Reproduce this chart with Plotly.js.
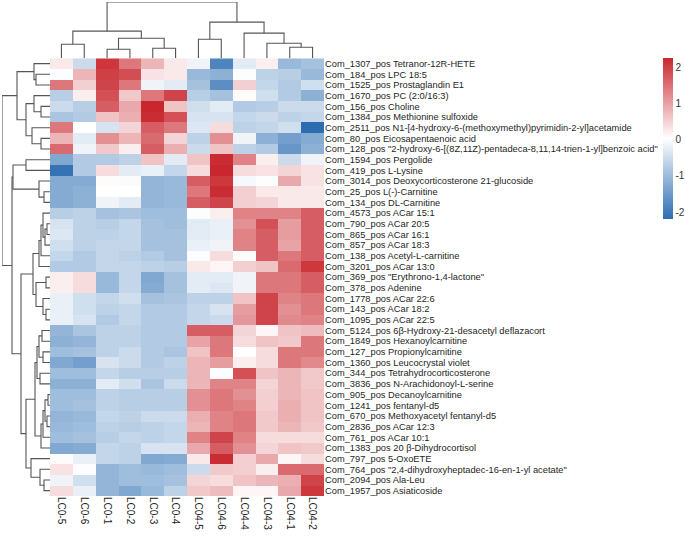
<!DOCTYPE html>
<html>
<head>
<meta charset="utf-8">
<script src="https://cdn.plot.ly/plotly-3.0.1.min.js"></script>
<style>
  html, body { margin: 0; padding: 0; background: #fff; }
  #chart { width: 685px; height: 536px; }
</style>
</head>
<body>
<div id="chart"></div>
<script>
// Sample columns, in clustered order
const colLabels = ['LC0-5','LC0-6','LC0-1','LC0-2','LC0-3','LC0-4',
                   'LC04-5','LC04-6','LC04-4','LC04-3','LC04-1','LC04-2'];

// Metabolite rows, in clustered order (top to bottom)
const rowLabels = [
  'Com_1307_pos Tetranor-12R-HETE',
  'Com_184_pos LPC 18:5',
  'Com_1525_pos Prostaglandin E1',
  'Com_1670_pos PC (2:0/16:3)',
  'Com_156_pos Choline',
  'Com_1384_pos Methionine sulfoxide',
  'Com_2511_pos N1-[4-hydroxy-6-(methoxymethyl)pyrimidin-2-yl]acetamide',
  'Com_80_pos Eicosapentaenoic acid',
  'Com_128_pos "2-hydroxy-6-[(8Z,11Z)-pentadeca-8,11,14-trien-1-yl]benzoic acid"',
  'Com_1594_pos Pergolide',
  'Com_419_pos L-Lysine',
  'Com_3014_pos Deoxycorticosterone 21-glucoside',
  'Com_25_pos L(-)-Carnitine',
  'Com_134_pos DL-Carnitine',
  'Com_4573_pos ACar 15:1',
  'Com_790_pos ACar 20:5',
  'Com_865_pos ACar 16:1',
  'Com_857_pos ACar 18:3',
  'Com_138_pos Acetyl-L-carnitine',
  'Com_3201_pos ACar 13:0',
  'Com_369_pos "Erythrono-1,4-lactone"',
  'Com_378_pos Adenine',
  'Com_1778_pos ACar 22:6',
  'Com_143_pos ACar 18:2',
  'Com_1095_pos ACar 22:5',
  'Com_5124_pos 6β-Hydroxy-21-desacetyl deflazacort',
  'Com_1849_pos Hexanoylcarnitine',
  'Com_127_pos Propionylcarnitine',
  'Com_1360_pos Leucocrystal violet',
  'Com_344_pos Tetrahydrocorticosterone',
  'Com_3836_pos N-Arachidonoyl-L-serine',
  'Com_905_pos Decanoylcarnitine',
  'Com_1241_pos fentanyl-d5',
  'Com_670_pos Methoxyacetyl fentanyl-d5',
  'Com_2836_pos ACar 12:3',
  'Com_761_pos ACar 10:1',
  'Com_1383_pos 20 β-Dihydrocortisol',
  'Com_797_pos 5-OxoETE',
  'Com_764_pos "2,4-dihydroxyheptadec-16-en-1-yl acetate"',
  'Com_2094_pos Ala-Leu',
  'Com_1957_pos Asiaticoside'
];

// Row-scaled abundances (z-scores), one row per metabolite
const zScores = [
  [ 0.26,-0.52, 2.10, 1.43, 0.78, 0.26,-0.13,-1.82,-0.26, 0.20,-1.04,-0.91],
  [ 0.00, 0.78, 2.00, 1.85, 0.33, 0.26,-1.04,-1.17, 0.00,-0.65,-0.72,-1.04],
  [ 1.43, 0.52, 1.95, 1.43,-0.13,-0.26,-0.91,-1.69, 0.52,-0.59,-0.78,-0.46],
  [-0.72, 0.20, 1.82, 0.59, 1.43, 1.95,-0.72,-0.91, 0.07,-0.46,-0.78,-1.17],
  [-0.52,-0.72, 1.69, 0.91, 2.25, 0.65,-0.46,-0.26,-0.78,-0.72,-0.52,-0.52],
  [-0.85,-0.78, 0.65, 0.85, 2.20, 1.82,-0.39,-0.39,-0.59,-0.52,-0.65,-0.59],
  [ 1.43, 0.03,-0.39, 0.46, 1.69, 1.43,-0.33, 0.39,-0.65,-0.59,-0.46,-2.19],
  [ 0.78,-0.26, 1.17, 0.78, 1.56, 0.46,-0.65, 1.17,-0.13,-1.17,-1.43,-1.24],
  [ 1.56,-0.13, 0.59, 0.20, 1.69, 0.85,-0.52, 0.65,-0.65,-0.78,-1.56,-1.17],
  [-1.30,-0.78,-0.78,-0.65, 0.65,-0.26, 0.65, 2.20, 1.30, 0.20,-0.52,-0.13],
  [-2.10,-0.78, 0.39,-0.26,-0.20,-0.59, 0.39, 2.25, 0.39, 0.33, 0.46, 0.33],
  [-1.24,-1.24, 0.07,-0.03,-1.10,-1.04, 1.69, 2.08,-0.07, 0.00, 0.91, 0.33],
  [-1.24,-1.17, 0.03, 0.03,-1.10,-1.04, 1.43, 2.20, 0.52, 0.26, 0.26, 0.26],
  [-1.24,-1.17,-0.13,-0.26,-1.10,-1.04, 1.69, 1.95, 0.52, 0.46, 0.26, 0.26],
  [-0.72,-0.65,-0.91,-0.85,-0.98,-0.98, 0.00, 0.20, 1.30, 1.30, 1.30, 1.69],
  [-0.39,-0.65,-0.72,-0.59,-0.91,-0.98,-0.26,-0.20, 1.17, 1.82, 1.04, 1.69],
  [-0.33,-0.65,-0.65,-0.59,-0.91,-0.91,-0.26,-0.20, 1.30, 1.69, 1.04, 1.69],
  [-0.46,-0.65,-0.59,-0.59,-0.91,-0.91,-0.20,-0.13, 1.30, 1.69, 0.98, 1.69],
  [-0.59,-0.78,-0.59,-0.65,-0.78,-0.91, 0.00, 0.39, 0.07, 1.69, 1.43, 1.69],
  [-0.78,-0.78,-0.59,-0.59,-0.65,-0.72, 0.26, 0.13, 0.52, 0.65, 1.56, 2.08],
  [ 0.20, 0.39,-1.04,-0.59,-1.30,-0.91,-0.26,-0.26,-0.13, 1.43, 1.43, 1.69],
  [ 0.20, 0.39,-1.04,-0.59,-1.24,-0.91,-0.26,-0.33,-0.13, 1.43, 1.43, 1.69],
  [-0.20,-0.46,-0.59,-0.46,-0.91,-0.85,-0.65,-0.65, 0.65, 1.95, 1.30, 1.43],
  [-0.20,-0.46,-0.65,-0.59,-0.78,-0.78,-0.59,-0.39, 1.04, 1.95, 1.17, 1.43],
  [-0.20,-0.39,-0.78,-0.59,-0.78,-0.78,-0.59,-0.52, 1.10, 1.95, 1.24, 1.30],
  [-1.10,-0.85,-0.65,-0.65,-0.78,-0.78, 1.69, 1.69, 0.46, 0.13, 0.65, 0.72],
  [-1.17,-1.10,-0.65,-0.65,-0.78,-0.78, 0.98, 1.43, 0.39, 0.65, 0.59, 1.43],
  [-0.98,-0.91,-0.65,-0.52,-0.78,-0.85, 0.65, 1.43, 0.03, 0.39, 1.43, 1.43],
  [-1.30,-1.43,-0.39,-0.52,-0.78,-0.65, 0.78, 1.04, 0.20, 0.39, 1.43, 1.24],
  [-0.98,-0.98,-0.59,-0.72,-0.72,-0.72, 0.78, 0.00, 1.82, 0.65, 0.78, 0.59],
  [-1.17,-1.17,-0.26,-0.46,-0.85,-0.52, 0.78, 1.30, 1.30, 0.46, 0.78, 0.59],
  [-0.98,-0.98,-0.65,-0.72,-0.72,-0.72, 1.17, 1.43, 1.17, 0.52, 0.78, 0.65],
  [-0.98,-0.91,-0.65,-0.72,-0.72,-0.72, 1.17, 1.43, 1.30, 0.52, 0.85, 0.65],
  [-1.10,-1.04,-0.59,-0.65,-0.52,-0.52, 0.85, 1.30, 1.43, 0.59, 0.85, 0.65],
  [-1.04,-0.98,-0.65,-0.72,-0.65,-0.59, 0.78, 1.30, 1.43, 0.59, 0.78, 0.59],
  [-0.98,-0.91,-0.72,-0.59,-0.65,-0.59, 1.30, 1.95, 1.30, 0.39, 0.39, 0.39],
  [-1.30,-1.24,-0.59,-0.65,-0.39,-0.39, 0.91, 1.69, 1.17, 0.46, 0.65, 0.59],
  [ 0.07,-0.20,-0.59,-0.65,-1.30,-1.24, 0.26, 2.20, 0.52, 0.91, 0.13, 0.39],
  [ 0.33, 0.00,-1.10,-0.98,-1.04,-0.98,-0.52, 0.59, 0.52, 0.20, 1.56, 1.56],
  [-0.13,-0.46,-1.10,-0.98,-0.98,-0.91, 0.46, 0.39, 0.65, 0.78, 0.85, 1.95],
  [ 0.39,-0.20,-1.10,-1.30,-1.04,-0.65, 0.59, 0.72, 0.13, 0.13, 0.91, 2.08]
];

// Column clustering: hclust-style merges (negative = leaf index, positive = earlier merge)
const colMerge = [
  [-1,-2],[-3,-4],[-5,-6],[2,3],[1,4],
  [-7,-8],[-11,-12],[-10,7],[-9,8],[6,9],[5,10]
];
const colHeight = [14, 9, 10, 20, 27, 19, 11, 15, 25, 36, 56];

// Row clustering
const rowMerge = [
  [-2,-3],[-1,1],[-5,-6],[-4,3],[-8,-9],[-7,5],[4,6],[2,7],
  [-10,-11],[-13,-14],[-12,10],[9,11],
  [-16,-17],[-18,13],[-15,14],[-19,15],[-20,16],
  [-21,-22],[-24,-25],[-23,19],[18,20],[17,21],
  [-32,-33],[-34,-35],[23,24],[-36,25],[-37,26],
  [-26,-27],[-28,-29],[28,29],[-30,-31],[30,31],[32,27],
  [-40,-41],[-39,34],[-38,35],[33,36],[22,37],[12,38],[8,39]
];
const rowHeight = [
  14, 16, 9, 16, 9, 18, 24, 33,
  24, 6, 11, 37,
  3, 5, 7, 9, 11,
  4, 4, 7, 14, 17,
  2, 3, 5, 7, 9,
  8, 7, 11, 10, 13, 15,
  6, 10, 19, 24, 29, 38, 48
];

const colorBarTicks = [2, 1, 0, -1, -2];
const colorBarText = ['2', '1', '0', '-1', '-2'];

// Build elbow segments of a dendrogram: positions along the leaves and merge heights
function dendroSegments(merge, height) {
  const pos = [], hgt = [];
  const P = [], H = [];
  const nodePos = i => i < 0 ? (-i - 1) : pos[i - 1];
  const nodeH = i => i < 0 ? 0 : hgt[i - 1];
  merge.forEach((m, k) => {
    const [a, b] = m;
    const pa = nodePos(a), pb = nodePos(b);
    const ha = nodeH(a), hb = nodeH(b), h = height[k];
    P.push(pa, pa, pb, pb, null);
    H.push(ha, h, h, hb, null);
    pos.push((pa + pb) / 2);
    hgt.push(h);
  });
  return { P, H };
}

const W = 685, Hpx = 536;
const hmLeft = 50, hmRight = 324, hmTop = 58.3, hmBottom = 496;
const fx = px => px / W;
const fy = py => 1 - py / Hpx;

const colD = dendroSegments(colMerge, colHeight);
const rowD = dendroSegments(rowMerge, rowHeight);
const lineStyle = { color: '#555555', width: 1.1 };

const heat = {
  type: 'heatmap',
  x: colLabels,
  y: rowLabels,
  z: zScores,
  zmin: -2.19,
  zmax: 2.25,
  colorscale: [[0, '#2c6db2'], [0.5, '#ffffff'], [1, '#c8272e']],
  xgap: 0, ygap: 0,
  hoverinfo: 'x+y+z',
  colorbar: {
    x: fx(663), xanchor: 'left', xpad: 0,
    y: fy(58), yanchor: 'top', ypad: 0,
    len: 161, lenmode: 'pixels',
    thickness: 10, thicknessmode: 'pixels',
    outlinewidth: 0,
    tickmode: 'array', tickvals: colorBarTicks, ticktext: colorBarText,
    ticks: '', ticklabelposition: 'outside',
    tickfont: { size: 10, color: '#333333' }
  }
};

const colDendro = {
  type: 'scatter', mode: 'lines',
  x: colD.P, y: colD.H,
  xaxis: 'x2', yaxis: 'y2',
  line: lineStyle, hoverinfo: 'skip', showlegend: false
};

const rowDendro = {
  type: 'scatter', mode: 'lines',
  x: rowD.H, y: rowD.P,
  xaxis: 'x3', yaxis: 'y3',
  line: lineStyle, hoverinfo: 'skip', showlegend: false
};

const hidden = { showgrid: false, zeroline: false, showline: false, showticklabels: false, ticks: '', automargin: false };

const layout = {
  width: W, height: Hpx,
  margin: { l: 0, r: 0, t: 0, b: 0, pad: 0 },
  paper_bgcolor: '#ffffff', plot_bgcolor: 'rgba(0,0,0,0)',
  font: { family: '"Liberation Sans", Arial, sans-serif', color: '#1e1e1e' },
  showlegend: false,
  xaxis: {
    domain: [fx(hmLeft), fx(hmRight)],
    range: [-0.5, colLabels.length - 0.5],
    tickmode: 'array', tickvals: colLabels, ticktext: colLabels,
    tickangle: 90, ticks: '', showgrid: false, zeroline: false, showline: false,
    tickfont: { size: 10, color: '#1e1e1e' }, automargin: false, fixedrange: true
  },
  yaxis: {
    domain: [fy(hmBottom), fy(hmTop)],
    range: [rowLabels.length - 0.5, -0.5],
    tickmode: 'array', tickvals: rowLabels, ticktext: rowLabels,
    side: 'right', ticks: '', showgrid: false, zeroline: false, showline: false,
    tickfont: { size: 9.3, color: '#1e1e1e' }, automargin: false, fixedrange: true
  },
  xaxis2: Object.assign({}, hidden, {
    domain: [fx(hmLeft), fx(hmRight)], range: [-0.5, colLabels.length - 0.5], anchor: 'y2'
  }),
  yaxis2: Object.assign({}, hidden, {
    domain: [fy(hmTop), fy(2)], range: [0, 56], anchor: 'x2'
  }),
  xaxis3: Object.assign({}, hidden, {
    domain: [fx(2), fx(hmLeft)], range: [48, 0], anchor: 'y3'
  }),
  yaxis3: Object.assign({}, hidden, {
    domain: [fy(hmBottom), fy(hmTop)], range: [rowLabels.length - 0.5, -0.5], anchor: 'x3'
  })
};

Plotly.newPlot('chart', [heat, colDendro, rowDendro], layout, { displayModeBar: false, staticPlot: true });
</script>
</body>
</html>
